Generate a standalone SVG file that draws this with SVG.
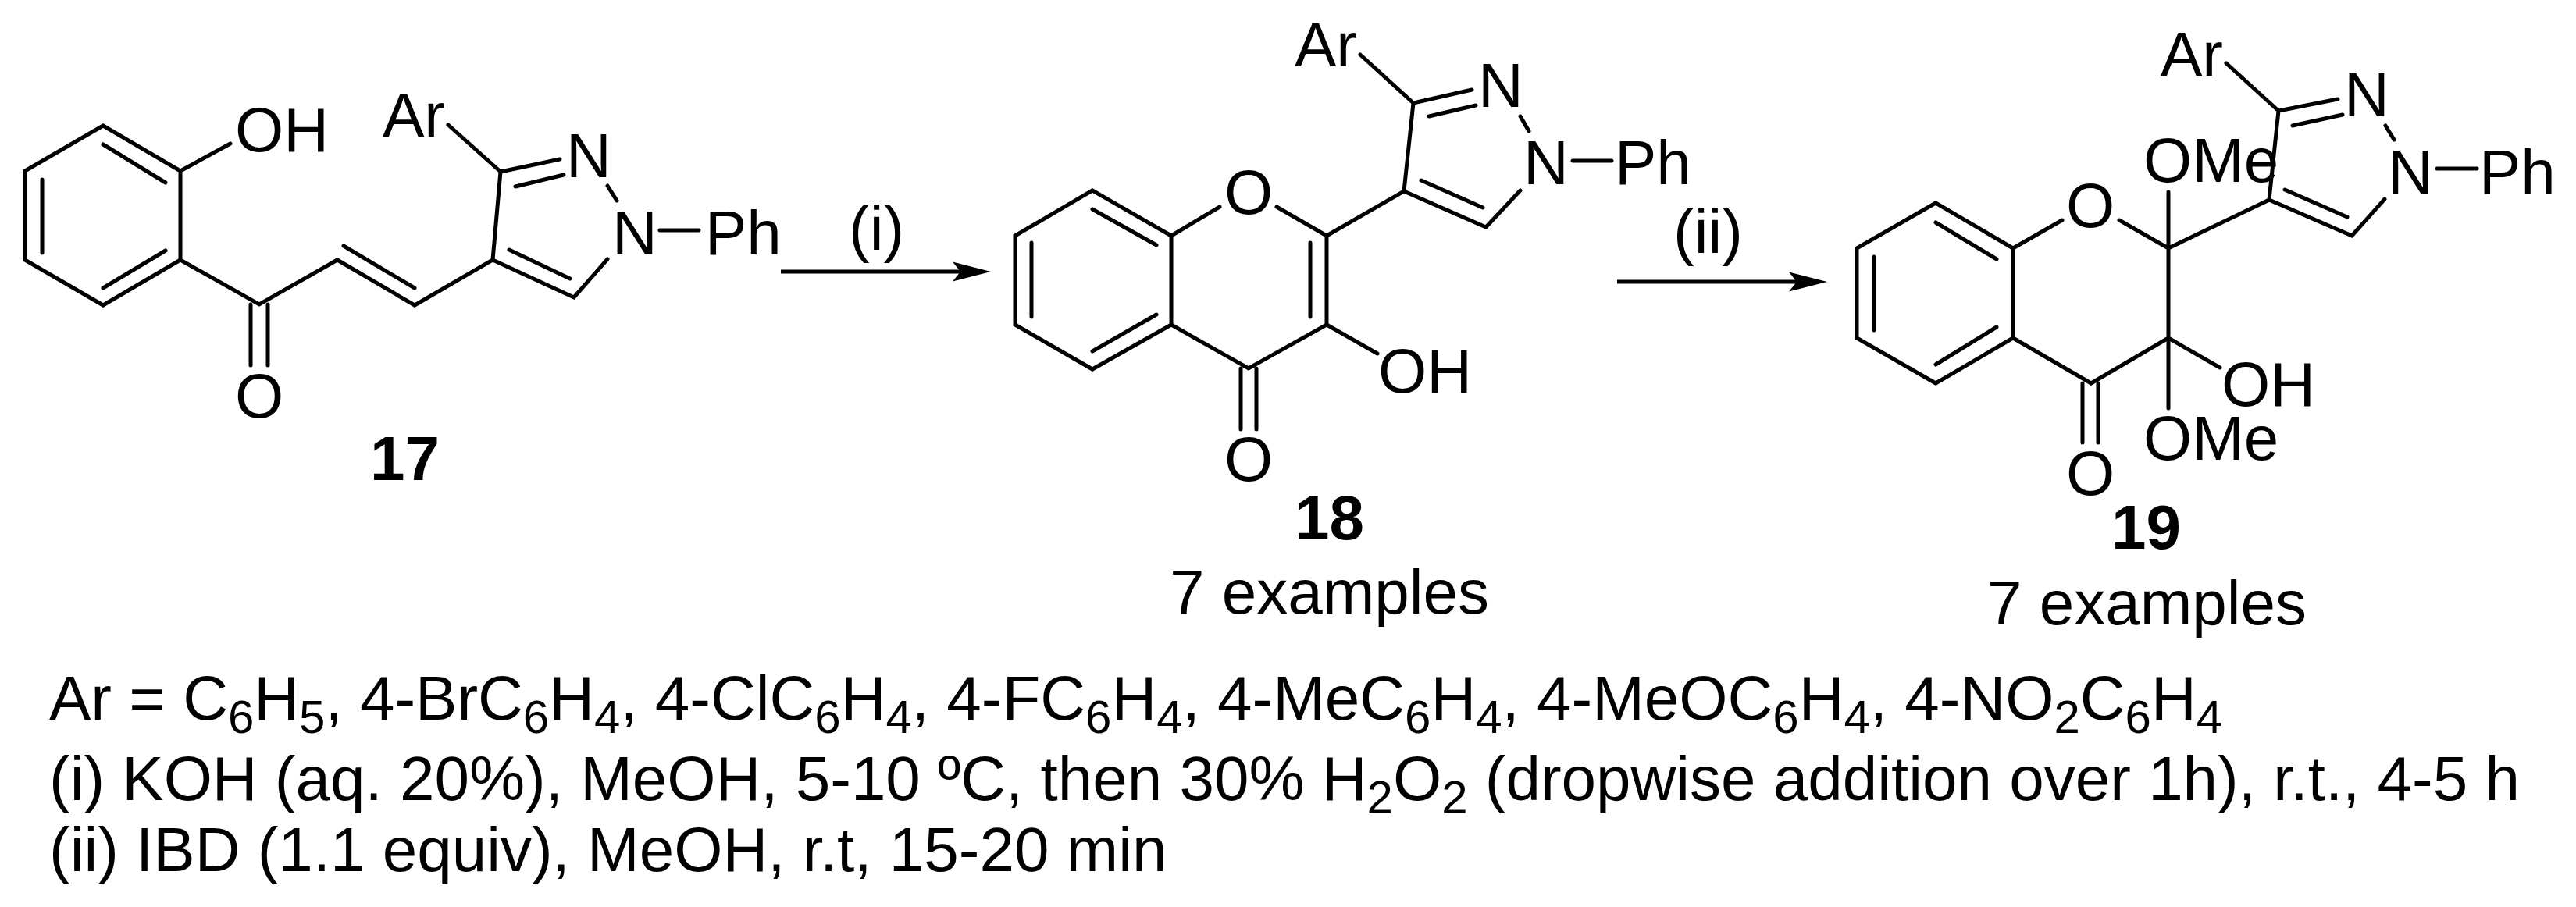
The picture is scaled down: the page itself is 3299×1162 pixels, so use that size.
<svg xmlns="http://www.w3.org/2000/svg" width="3299" height="1162" viewBox="0 0 3299 1162">
<style>
text{font-family:"Liberation Sans",Arial,sans-serif;font-size:80px;fill:#000}
.b{font-weight:bold}
.s{font-size:60px}
.bond{fill:none;stroke:#000;stroke-width:5;stroke-linecap:round;stroke-linejoin:miter}
.arrow{fill:none;stroke:#000;stroke-width:5}
</style>
<defs>
<marker id="head" markerUnits="userSpaceOnUse" markerWidth="50" markerHeight="27" refX="10" refY="13" orient="auto"><path d="M0,0.5 L49,13 L0,25.5 L10,13 Z" fill="#000"/></marker>
</defs>
<rect width="3299" height="1162" fill="#fff"/>
<g id="compound-17">
<path class="bond" d="M132,161 L231,219 L231,333 L132,391 L32,333 L32,219 Z M132,185 L212,234 M132,369 L212,321 M54,230 L54,324 M231,219 L295,184 M231,333 L332,390 L432,333 L531,391 L631,333 L641,220 M440,315 L531,369 M321,390 L321,468 M343,390 L343,468 M631,333 L735,381 L778,332 M652,320 L730,357 M641,220 L717,204 M660,239 L722,224 M778,238 L790,257 M641,220 L574,160 M845,295 L895,295"/>
<text x="301" y="194">OH</text><text x="490" y="175">Ar</text><text x="725" y="227">N</text><text x="784" y="326">N</text><text x="903" y="326">Ph</text><text x="301" y="535">O</text>
<text class="b" x="474" y="615">17</text>
</g>
<g id="compound-18">
<path class="bond" d="M1399,244 L1500,302 L1500,416 L1399,473 L1300,416 L1300,302 Z M1399,268 L1481,314 M1399,450 L1481,403 M1321,311 L1321,406 M1500,302 L1562,265 M1635,265 L1699,302 L1699,416 L1599,472 L1500,416 M1678,311 L1678,406 M1589,472 L1589,550 M1609,472 L1609,550 M1699,416 L1764,453 M1699,302 L1798,245 L1810,132 M1810,132 L1885,115 M1830,149 L1890,135 M1810,132 L1742,70 M1947,149 L1958,168 M2014,206 L2064,206 M1798,245 L1903,291 L1947,244 M1820,231 L1899,266"/>
<text x="1568" y="274">O</text><text x="1568" y="616">O</text><text x="1765" y="503">OH</text><text x="1658" y="85">Ar</text><text x="1893" y="137">N</text><text x="1951" y="236">N</text><text x="2068" y="236">Ph</text>
<text class="b" x="1658" y="691">18</text>
<text x="1498" y="786">7 examples</text>
</g>
<g id="compound-19">
<path class="bond" d="M2479,260 L2578,318 L2578,433 L2479,491 L2378,433 L2378,318 Z M2479,285 L2557,332 M2479,467 L2557,419 M2400,329 L2400,423 M2578,318 L2641,282 M2714,282 L2777,318 L2777,433 L2678,491 L2578,433 M2667,491 L2667,567 M2687,491 L2687,567 M2777,433 L2843,471 M2777,433 L2777,523 M2777,246 L2777,318 M2777,318 L2906,256 L2918,142 M2918,142 L2994,127 M2936,161 L3000,147 M2918,142 L2851,81 M3055,161 L3066,179 M3121,216 L3172,216 M2906,256 L3012,302 L3054,255 M2926,243 L3006,278"/>
<text x="2646" y="291">O</text><text x="2646" y="634">O</text><text x="2845" y="520">OH</text><text x="2745" y="589">OMe</text><text x="2745" y="233">OMe</text><text x="2767" y="97">Ar</text><text x="3002" y="149">N</text><text x="3058" y="248">N</text><text x="3175" y="248">Ph</text>
<text class="b" x="2704" y="703">19</text>
<text x="2545" y="800">7 examples</text>
</g>
<g id="connectors">
<path class="arrow" marker-end="url(#head)" d="M1000,348 L1230,348"/>
<path class="arrow" marker-end="url(#head)" d="M2071,361 L2301,361"/>
</g>
<g id="arrow-labels">
<text x="1087" y="320">(i)</text>
<text x="2143" y="324">(ii)</text>
</g>
<g id="conditions">
<text x="63" y="922">Ar = C<tspan class="s" dy="17">6</tspan><tspan dy="-17">H</tspan><tspan class="s" dy="17">5</tspan><tspan dy="-17">, 4-BrC</tspan><tspan class="s" dy="17">6</tspan><tspan dy="-17">H</tspan><tspan class="s" dy="17">4</tspan><tspan dy="-17">, 4-ClC</tspan><tspan class="s" dy="17">6</tspan><tspan dy="-17">H</tspan><tspan class="s" dy="17">4</tspan><tspan dy="-17">, 4-FC</tspan><tspan class="s" dy="17">6</tspan><tspan dy="-17">H</tspan><tspan class="s" dy="17">4</tspan><tspan dy="-17">, 4-MeC</tspan><tspan class="s" dy="17">6</tspan><tspan dy="-17">H</tspan><tspan class="s" dy="17">4</tspan><tspan dy="-17">, 4-MeOC</tspan><tspan class="s" dy="17">6</tspan><tspan dy="-17">H</tspan><tspan class="s" dy="17">4</tspan><tspan dy="-17">, 4-NO</tspan><tspan class="s" dy="17">2</tspan><tspan dy="-17">C</tspan><tspan class="s" dy="17">6</tspan><tspan dy="-17">H</tspan><tspan class="s" dy="17">4</tspan></text>
<text x="63" y="1025">(i) KOH (aq. 20%), MeOH, 5-10 ºC, then 30% H<tspan class="s" dy="17">2</tspan><tspan dy="-17">O</tspan><tspan class="s" dy="17">2</tspan><tspan dy="-17"> (dropwise addition over 1h), r.t., 4-5 h</tspan></text>
<text x="63" y="1116">(ii) IBD (1.1 equiv), MeOH, r.t, 15-20 min</text>
</g>
</svg>
